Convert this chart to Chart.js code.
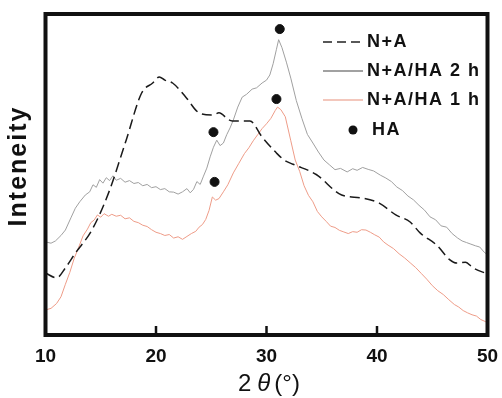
<!DOCTYPE html>
<html>
<head>
<meta charset="utf-8">
<script src="https://cdn.jsdelivr.net/npm/chart.js@4.4.0/dist/chart.umd.min.js"></script>
<style>
  html, body { margin: 0; padding: 0; background: #fff; }
  #wrap { width: 502px; height: 398px; }
</style>
</head>
<body>
<div id="wrap"><canvas id="xrd" width="502" height="398"></canvas></div>
<script>
// 2theta (deg) / intensity (a.u.)
const naX = [10, 11.0, 11.8, 12.7, 14.2, 15.7, 17.3, 18.7, 19.7, 20.3, 20.8, 21.5, 22.7, 23.9, 25.1, 25.7, 26.6, 26.9, 28.5, 29.6, 30.9, 31.6, 32.4, 34.5, 36.8, 38.6, 40.2, 41.7, 43.0, 43.9, 45.4, 46.6, 47.2, 48.0, 48.7, 50];
const naY = [19.3, 17.8, 20.9, 25.5, 32.7, 44.2, 60.7, 75.4, 78.5, 80.4, 79.4, 78.5, 74.1, 69.2, 68.5, 69.2, 67.0, 66.7, 66.7, 61.7, 56.7, 54.5, 53.2, 50.0, 43.6, 42.7, 41.1, 37.4, 35.2, 31.8, 28.0, 23.4, 22.4, 22.7, 20.9, 19.0];

const ha2X = [10, 10.5, 10.9, 11.4, 11.8, 12.3, 12.7, 13.1, 13.6, 14.0, 14.3, 14.6, 14.9, 15.2, 15.5, 15.8, 16.1, 16.4, 16.8, 17.2, 17.6, 18.0, 18.4, 18.8, 19.2, 19.6, 20.0, 20.4, 20.8, 21.2, 21.6, 22.0, 22.4, 22.8, 23.1, 23.4, 23.7, 24.0, 24.3, 24.6, 24.9, 25.2, 25.5, 25.8, 26.1, 26.4, 26.7, 27.0, 27.4, 27.8, 28.2, 28.7, 29.1, 29.6, 30.0, 30.3, 30.6, 30.9, 31.1, 31.4, 31.8, 32.2, 32.7, 33.2, 33.7, 34.2, 34.7, 35.2, 35.7, 36.2, 36.7, 37.3, 37.8, 38.2, 38.7, 39.2, 39.7, 40.3, 40.8, 41.3, 41.8, 42.3, 42.8, 43.3, 43.8, 44.3, 44.8, 45.3, 45.8, 46.3, 46.8, 47.3, 47.7, 48.1, 48.5, 48.9, 49.3, 49.7, 50];
const ha2Y = [29.0, 28.6, 29.3, 31.0, 32.7, 36.5, 39.5, 41.5, 43.6, 44.6, 46.8, 46.0, 48.4, 47.3, 49.0, 48.1, 49.6, 48.2, 48.8, 47.6, 48.1, 47.2, 47.5, 46.5, 46.9, 45.9, 46.2, 45.3, 45.6, 44.6, 44.5, 43.9, 44.6, 45.6, 44.3, 45.4, 47.8, 46.9, 49.5, 52.0, 55.5, 58.5, 60.7, 59.0, 59.8, 62.4, 64.5, 67.0, 71.0, 74.1, 75.0, 76.6, 77.0, 78.5, 79.4, 81.0, 84.5, 89.0, 92.0, 89.5, 85.0, 80.0, 73.0, 67.5, 62.5, 59.8, 57.0, 54.5, 53.0, 51.5, 51.9, 50.8, 51.8, 51.3, 52.2, 51.6, 51.1, 49.8, 48.9, 47.8, 46.1, 45.0, 43.3, 42.1, 40.4, 38.9, 36.8, 35.9, 34.0, 33.6, 31.6, 30.2, 29.3, 28.8, 28.3, 27.8, 27.4, 25.8, 25.0];

const ha1X = [10, 10.5, 11.0, 11.4, 11.8, 12.2, 12.6, 13.0, 13.4, 13.8, 14.1, 14.4, 14.7, 15.0, 15.3, 15.7, 16.0, 16.4, 16.8, 17.2, 17.6, 18.0, 18.4, 18.8, 19.2, 19.6, 20.0, 20.4, 20.8, 21.2, 21.6, 22.0, 22.4, 22.8, 23.2, 23.6, 23.9, 24.2, 24.5, 24.8, 25.1, 25.4, 25.7, 26.1, 26.5, 27.0, 27.5, 28.0, 28.4, 28.8, 29.2, 29.6, 30.0, 30.4, 30.8, 31.0, 31.3, 31.7, 32.2, 32.6, 33.0, 33.4, 33.8, 34.2, 34.6, 35.0, 35.4, 35.8, 36.2, 36.6, 37.0, 37.4, 37.8, 38.2, 38.6, 39.0, 39.4, 39.8, 40.2, 40.6, 41.0, 41.5, 42.0, 42.5, 43.0, 43.5, 44.0, 44.5, 45.0, 45.5, 46.0, 46.5, 47.0, 47.4, 47.8, 48.2, 48.6, 49.0, 49.4, 49.8, 50];
const ha1Y = [7.8, 8.3, 9.8, 11.9, 15.8, 19.5, 23.9, 27.3, 30.9, 33.0, 35.0, 35.8, 37.4, 36.7, 37.8, 37.0, 37.6, 37.0, 37.3, 36.2, 36.5, 35.4, 35.0, 34.2, 33.8, 32.8, 32.0, 31.6, 31.0, 31.3, 30.2, 30.6, 29.8, 30.7, 31.6, 32.3, 33.6, 34.4, 36.0, 38.8, 43.0, 42.0, 42.5, 44.6, 46.8, 50.5, 53.5, 56.5, 58.3, 60.5, 62.4, 64.3, 65.8, 67.5, 70.0, 71.0, 70.2, 68.0, 60.5, 54.5, 51.0, 46.5, 43.5, 41.5, 38.5, 36.8, 35.4, 33.9, 33.5, 32.6, 32.1, 31.6, 32.2, 32.0, 32.8, 32.7, 32.0, 31.2, 30.5, 29.0, 28.0, 26.9, 25.3, 24.0, 22.5, 21.0, 19.2, 17.4, 15.4, 13.8, 12.6, 11.0, 9.5, 8.7, 7.6, 6.9, 6.3, 5.9, 4.8, 4.2, 3.8];

// HA reflections (filled circles)
const haX = [31.2, 30.9, 25.2, 25.3];
const haY = [95.3, 73.5, 63.2, 47.7];

const xTicks = [10, 20, 30, 40, 50];
const legendNames = ['N+A', 'N+A/HA 2 h', 'N+A/HA 1 h', 'HA'];

const FONT = '"Liberation Sans", Arial, sans-serif';

function pts(xs, ys) {
    return xs.map((x, i) => ({ x: x, y: ys[i] }));
}

// border, inward ticks, titles and legend
const decor = {
    id: 'decor',
    afterDraw(chart) {
        const c = chart.ctx;
        const a = chart.chartArea;
        const xs = chart.scales.x;
        c.save();

        // frame
        c.strokeStyle = '#111';
        c.lineWidth = 4;
        c.strokeRect(a.left, a.top, a.right - a.left, a.bottom - a.top);

        // ticks pointing inward
        c.lineWidth = 2.5;
        xTicks.forEach(v => {
            const px = xs.getPixelForValue(v);
            c.beginPath();
            c.moveTo(px, a.bottom);
            c.lineTo(px, a.bottom - 9);
            c.stroke();
        });

        // y title
        c.fillStyle = '#111';
        c.save();
        c.translate(19, 166);
        c.rotate(-Math.PI / 2);
        c.font = 'bold 25px ' + FONT;
        c.letterSpacing = '2px';
        c.textAlign = 'center';
        c.textBaseline = 'middle';
        c.fillText('Inteneity', 0, 0);
        c.restore();

        // x title: 2θ(°)
        c.textBaseline = 'middle';
        c.textAlign = 'left';
        c.font = '24px ' + FONT;
        let tx = 238;
        const ty = 384;
        c.fillText('2', tx, ty);
        tx += c.measureText('2').width + 6;
        c.font = 'italic 24px ' + FONT;
        c.fillText('\u03b8', tx, ty);
        tx += c.measureText('\u03b8').width + 4;
        c.font = '24px ' + FONT;
        c.fillText('(\u00b0)', tx, ty);

        // legend
        const rows = [42, 71, 100, 130];
        c.font = 'bold 18px ' + FONT;
        c.letterSpacing = '1.5px';
        c.textBaseline = 'middle';
        c.fillStyle = '#111';

        c.lineWidth = 1.5;
        c.strokeStyle = '#222';
        c.setLineDash([9, 5]);
        c.beginPath(); c.moveTo(323, rows[0]); c.lineTo(363, rows[0]); c.stroke();
        c.setLineDash([]);

        c.lineWidth = 1.2;
        c.strokeStyle = '#444';
        c.beginPath(); c.moveTo(323, rows[1]); c.lineTo(363, rows[1]); c.stroke();

        c.strokeStyle = '#e8907a';
        c.beginPath(); c.moveTo(323, rows[2]); c.lineTo(363, rows[2]); c.stroke();

        c.beginPath();
        c.arc(353, rows[3], 4.5, 0, Math.PI * 2);
        c.fill();

        c.fillText(legendNames[0], 367, rows[0]);
        c.fillText(legendNames[1], 367, rows[1]);
        c.fillText(legendNames[2], 367, rows[2]);
        c.fillText(legendNames[3], 372, rows[3]);

        c.restore();
    }
};

new Chart(document.getElementById('xrd').getContext('2d'), {
    type: 'scatter',
    data: {
        datasets: [
            {
                label: legendNames[3], data: pts(haX, haY),
                backgroundColor: '#111', borderColor: '#111',
                pointRadius: 4.5, showLine: false
            },
            {
                label: legendNames[0], data: pts(naX, naY), showLine: true,
                borderColor: '#1a1a1a', borderWidth: 1.5, borderDash: [10, 5],
                pointRadius: 0, cubicInterpolationMode: 'monotone'
            },
            {
                label: legendNames[1], data: pts(ha2X, ha2Y), showLine: true,
                borderColor: '#a0a0a0', borderWidth: 1, pointRadius: 0
            },
            {
                label: legendNames[2], data: pts(ha1X, ha1Y), showLine: true,
                borderColor: '#ee9c88', borderWidth: 1, pointRadius: 0
            }
        ]
    },
    options: {
        responsive: false,
        animation: false,
        layout: { padding: { left: 0, right: 14.5, top: 14, bottom: 0 } },
        plugins: { legend: { display: false }, tooltip: { enabled: false } },
        scales: {
            x: {
                type: 'linear', min: 10, max: 50,
                afterBuildTicks: s => { s.ticks = xTicks.map(v => ({ value: v })); },
                afterFit: s => { s.height = 63; s.paddingLeft = 0; s.paddingRight = 0; },
                grid: { display: false, drawTicks: false },
                border: { display: false },
                ticks: {
                    padding: 10, color: '#111',
                    font: { family: FONT, size: 19, weight: 'bold' }
                }
            },
            y: {
                type: 'linear', min: 0, max: 100,
                afterFit: s => { s.width = 45.5; },
                grid: { display: false, drawTicks: false },
                border: { display: false },
                ticks: { display: false }
            }
        }
    },
    plugins: [decor]
});
</script>
</body>
</html>
